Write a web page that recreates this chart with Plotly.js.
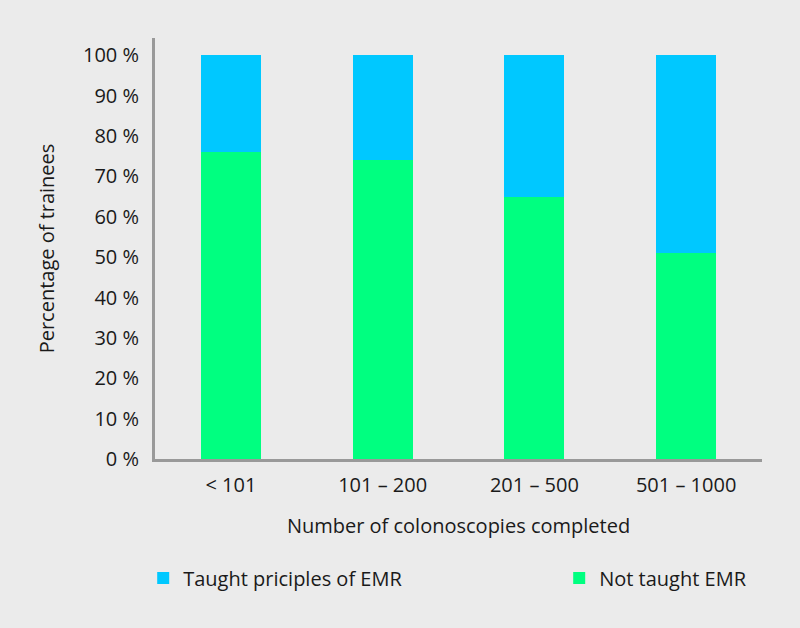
<!DOCTYPE html>
<html>
<head>
<meta charset="utf-8">
<script src="https://cdn.plot.ly/plotly-3.0.1.min.js"></script>
<style>html,body{margin:0;padding:0;background:#ebebeb;}#chart{width:800px;height:628px;}</style>
</head>
<body>
<div id="chart"></div>
<script>
var categories = ["< 101", "101 – 200", "201 – 500", "501 – 1000"];
var notTaught = [76, 74, 65, 51];
var taught = [24, 26, 35, 49];
var yTickVals = [0, 10, 20, 30, 40, 50, 60, 70, 80, 90, 100];

var font = "Open Sans, Noto Sans, sans-serif";
var traces = [
  {type: "bar", name: "Not taught EMR", x: categories, y: notTaught, legend: "legend2",
   marker: {color: "#00ff80"}, width: 0.395, hoverinfo: "skip"},
  {type: "bar", name: "Taught priciples of EMR", x: categories, y: taught, legend: "legend",
   marker: {color: "#00c8ff"}, width: 0.395, hoverinfo: "skip"}
];
var legendBase = {orientation: "h", xref: "container", yref: "container", xanchor: "left",
                  y: 0.0796, yanchor: "middle", font: {size: 20, family: font}, bgcolor: "rgba(0,0,0,0)"};
var layout = {
  width: 800, height: 628,
  paper_bgcolor: "#ebebeb", plot_bgcolor: "#ebebeb",
  barmode: "stack",
  margin: {l: 155, r: 38, t: 38, b: 169, autoexpand: false},
  font: {family: font, size: 19, color: "#1a1a1a"},
  showlegend: true,
  legend: Object.assign({}, legendBase, {x: 0.179}),
  legend2: Object.assign({}, legendBase, {x: 0.699}),
  xaxis: {
    showline: true, linecolor: "#999999", linewidth: 3, showgrid: false, zeroline: false,
    ticks: "", ticklabelstandoff: 6, tickfont: {size: 20}, automargin: false,
    title: {text: "Number of colonoscopies completed", font: {size: 20}, standoff: 22}
  },
  yaxis: {
    range: [0, 104.3], showline: true, linecolor: "#999999", linewidth: 3, showgrid: false, zeroline: false,
    tickvals: yTickVals, ticktext: yTickVals.map(function(v){return v + " %";}),
    ticks: "", ticklabelstandoff: 9, tickfont: {size: 20}, automargin: false,
    title: {text: "Percentage of trainees", font: {size: 20}, standoff: 23}
  }
};
Plotly.newPlot("chart", traces, layout, {displayModeBar: false, staticPlot: true});
</script>
</body>
</html>
